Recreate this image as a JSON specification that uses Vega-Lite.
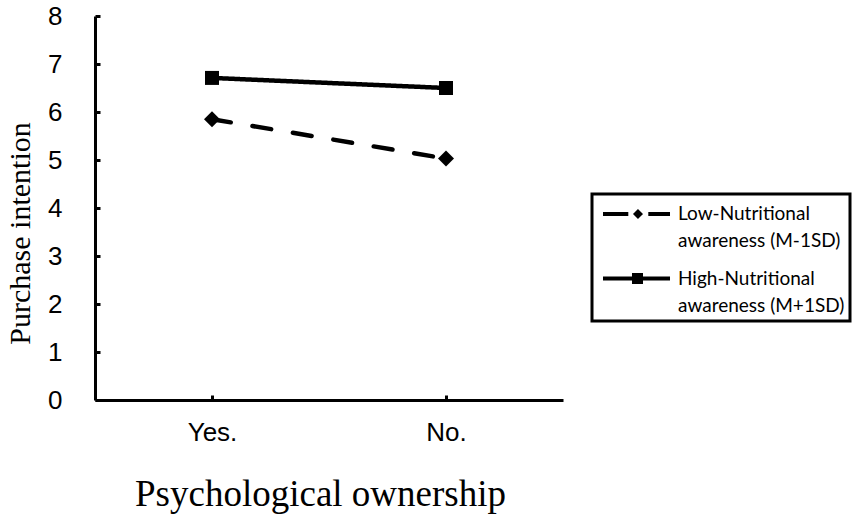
{
  "$schema": "https://vega.github.io/schema/vega-lite/v6.json",
  "width": 468,
  "height": 384,
  "autosize": {"type": "none"},
  "padding": {"left": 95, "top": 16, "right": 291, "bottom": 125},
  "background": "white",
  "config": {
    "view": {"stroke": null},
    "legend": {"strokeWidth": 3},
    "style": {"guide-label": {"lineHeight": 27}}
  },
  "data": {
    "values": [
      {"own": "Yes.", "s": "Low", "v": 5.85},
      {"own": "No.", "s": "Low", "v": 5.03},
      {"own": "Yes.", "s": "High", "v": 6.71},
      {"own": "No.", "s": "High", "v": 6.5}
    ]
  },
  "encoding": {
    "x": {
      "field": "own",
      "type": "nominal",
      "scale": {"type": "point", "padding": 0.5, "domain": ["Yes.", "No."]},
      "axis": {
        "title": "Psychological ownership",
        "titleFont": "Liberation Serif",
        "titleFontSize": 37,
        "titleFontWeight": "normal",
        "titleColor": "black",
        "titleX": 225,
        "titleY": 105,
        "titleBaseline": "alphabetic",
        "titleAlign": "center",
        "labelAngle": 0,
        "labelFont": "Liberation Sans",
        "labelFontSize": 26,
        "labelColor": "black",
        "labelPadding": 24,
        "tickSize": -5,
        "tickWidth": 3,
        "tickColor": "black",
        "domainColor": "black",
        "domainWidth": 3,
        "grid": false
      }
    },
    "y": {
      "field": "v",
      "type": "quantitative",
      "scale": {"domain": [0, 8], "nice": false},
      "axis": {
        "title": "Purchase intention",
        "titleFont": "Liberation Serif",
        "titleFontSize": 30,
        "titleFontWeight": "normal",
        "titleColor": "black",
        "titleAngle": -90,
        "titleX": -75,
        "titleY": 217,
        "titleBaseline": "middle",
        "titleAlign": "center",
        "values": [0, 1, 2, 3, 4, 5, 6, 7, 8],
        "labelFont": "Liberation Sans",
        "labelFontSize": 26,
        "labelColor": "black",
        "labelPadding": 38,
        "labelFlush": false,
        "labelOverlap": false,
        "tickSize": -5,
        "tickWidth": 3,
        "tickColor": "black",
        "domainColor": "black",
        "domainWidth": 3,
        "grid": false
      }
    }
  },
  "layer": [
    {
      "mark": {"type": "line", "strokeWidth": 4.5, "strokeCap": "round", "color": "black"},
      "encoding": {
        "strokeDash": {
          "field": "s",
          "type": "nominal",
          "scale": {"domain": ["Low", "High"], "range": [[19, 22], [1, 0]]},
          "legend": {
            "title": null,
            "orient": "none",
            "legendX": 497,
            "legendY": 178,
            "direction": "vertical",
            "padding": 5,
            "strokeColor": "black",
            "labelFont": "Lato",
            "labelFontSize": 19,
            "labelColor": "black",
            "labelLimit": 400,
            "labelOffset": 51,
            "rowPadding": 12.5,
            "symbolSize": 900,
            "symbolFillColor": "black",
            "symbolStrokeColor": "transparent",
            "symbolStrokeWidth": 0,
            "symbolType": {"expr": "datum.value === 'Low' ? 'M-0.6,-0.133H1.087V0.133H-0.6Z M2.42,-0.133H3.867V0.133H2.42Z M1.733,-0.333L2.067,0L1.733,0.333L1.4,0Z' : 'M-0.6,-0.133H3.867V0.133H-0.6Z M1.333,-0.367H2.067V0.367H1.333Z'"},
            "labelExpr": "datum.value === 'Low' ? ['Low-Nutritional', 'awareness (M-1SD)'] : ['High-Nutritional', 'awareness (M+1SD)']"
          }
        }
      }
    },
    {
      "transform": [{"filter": "datum.s === 'Low'"}],
      "mark": {"type": "point", "filled": true, "color": "black", "opacity": 1, "shape": "diamond", "size": 256}
    },
    {
      "transform": [{"filter": "datum.s === 'High'"}],
      "mark": {"type": "point", "filled": true, "color": "black", "opacity": 1, "shape": "square", "size": 196}
    }
  ]
}
